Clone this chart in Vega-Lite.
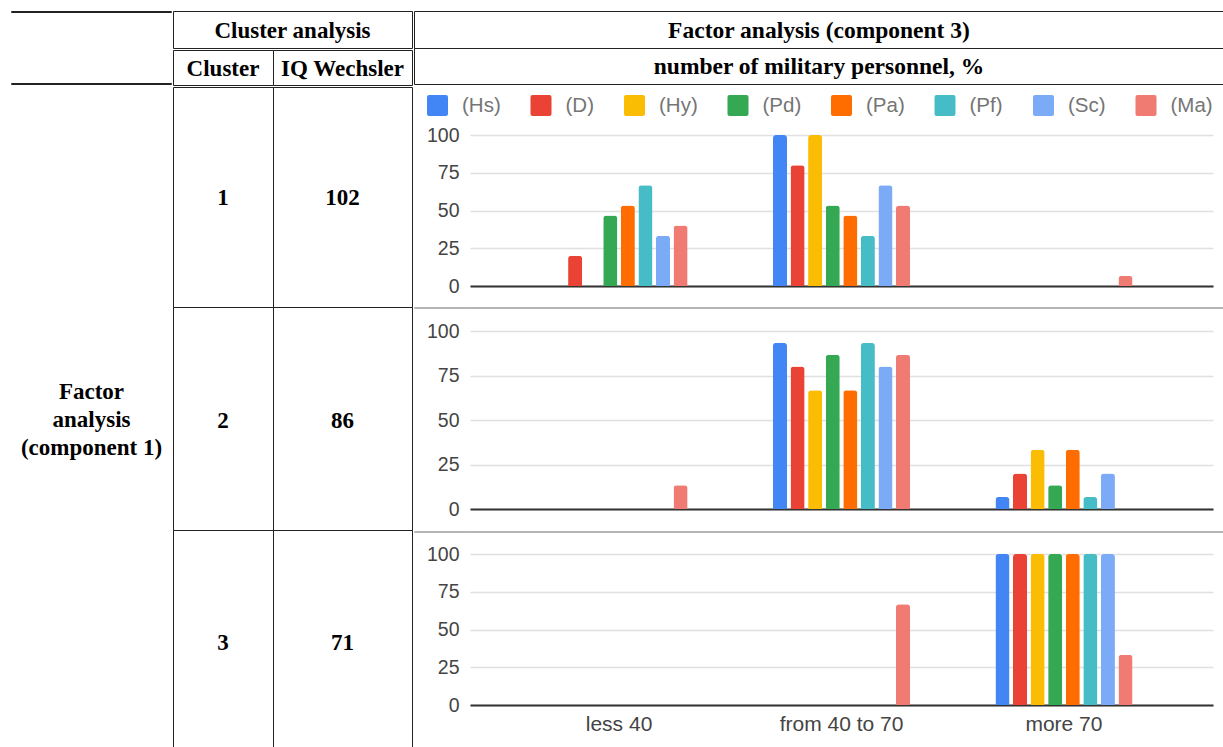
{
  "$schema": "https://vega.github.io/schema/vega-lite/v6.json",
  "padding": {"left": 10, "top": 10, "right": 0, "bottom": 0},
  "config": {
    "view": {"stroke": null},
    "concat": {"spacing": 0},
    "font": "Liberation Sans"
  },
  "datasets": {
    "bars": [
      {"cluster": 1, "group": "less 40", "scale": "(Hs)", "value": 0},
      {"cluster": 1, "group": "less 40", "scale": "(D)", "value": 20},
      {"cluster": 1, "group": "less 40", "scale": "(Hy)", "value": 0},
      {"cluster": 1, "group": "less 40", "scale": "(Pd)", "value": 46.7},
      {"cluster": 1, "group": "less 40", "scale": "(Pa)", "value": 53.3},
      {"cluster": 1, "group": "less 40", "scale": "(Pf)", "value": 66.7},
      {"cluster": 1, "group": "less 40", "scale": "(Sc)", "value": 33.3},
      {"cluster": 1, "group": "less 40", "scale": "(Ma)", "value": 40},
      {"cluster": 1, "group": "from 40 to 70", "scale": "(Hs)", "value": 100},
      {"cluster": 1, "group": "from 40 to 70", "scale": "(D)", "value": 80},
      {"cluster": 1, "group": "from 40 to 70", "scale": "(Hy)", "value": 100},
      {"cluster": 1, "group": "from 40 to 70", "scale": "(Pd)", "value": 53.3},
      {"cluster": 1, "group": "from 40 to 70", "scale": "(Pa)", "value": 46.7},
      {"cluster": 1, "group": "from 40 to 70", "scale": "(Pf)", "value": 33.3},
      {"cluster": 1, "group": "from 40 to 70", "scale": "(Sc)", "value": 66.7},
      {"cluster": 1, "group": "from 40 to 70", "scale": "(Ma)", "value": 53.3},
      {"cluster": 1, "group": "more 70", "scale": "(Hs)", "value": 0},
      {"cluster": 1, "group": "more 70", "scale": "(D)", "value": 0},
      {"cluster": 1, "group": "more 70", "scale": "(Hy)", "value": 0},
      {"cluster": 1, "group": "more 70", "scale": "(Pd)", "value": 0},
      {"cluster": 1, "group": "more 70", "scale": "(Pa)", "value": 0},
      {"cluster": 1, "group": "more 70", "scale": "(Pf)", "value": 0},
      {"cluster": 1, "group": "more 70", "scale": "(Sc)", "value": 0},
      {"cluster": 1, "group": "more 70", "scale": "(Ma)", "value": 6.7},
      {"cluster": 2, "group": "less 40", "scale": "(Hs)", "value": 0},
      {"cluster": 2, "group": "less 40", "scale": "(D)", "value": 0},
      {"cluster": 2, "group": "less 40", "scale": "(Hy)", "value": 0},
      {"cluster": 2, "group": "less 40", "scale": "(Pd)", "value": 0},
      {"cluster": 2, "group": "less 40", "scale": "(Pa)", "value": 0},
      {"cluster": 2, "group": "less 40", "scale": "(Pf)", "value": 0},
      {"cluster": 2, "group": "less 40", "scale": "(Sc)", "value": 0},
      {"cluster": 2, "group": "less 40", "scale": "(Ma)", "value": 13.3},
      {"cluster": 2, "group": "from 40 to 70", "scale": "(Hs)", "value": 93.3},
      {"cluster": 2, "group": "from 40 to 70", "scale": "(D)", "value": 80},
      {"cluster": 2, "group": "from 40 to 70", "scale": "(Hy)", "value": 66.7},
      {"cluster": 2, "group": "from 40 to 70", "scale": "(Pd)", "value": 86.7},
      {"cluster": 2, "group": "from 40 to 70", "scale": "(Pa)", "value": 66.7},
      {"cluster": 2, "group": "from 40 to 70", "scale": "(Pf)", "value": 93.3},
      {"cluster": 2, "group": "from 40 to 70", "scale": "(Sc)", "value": 80},
      {"cluster": 2, "group": "from 40 to 70", "scale": "(Ma)", "value": 86.7},
      {"cluster": 2, "group": "more 70", "scale": "(Hs)", "value": 6.7},
      {"cluster": 2, "group": "more 70", "scale": "(D)", "value": 20},
      {"cluster": 2, "group": "more 70", "scale": "(Hy)", "value": 33.3},
      {"cluster": 2, "group": "more 70", "scale": "(Pd)", "value": 13.3},
      {"cluster": 2, "group": "more 70", "scale": "(Pa)", "value": 33.3},
      {"cluster": 2, "group": "more 70", "scale": "(Pf)", "value": 6.7},
      {"cluster": 2, "group": "more 70", "scale": "(Sc)", "value": 20},
      {"cluster": 2, "group": "more 70", "scale": "(Ma)", "value": 0},
      {"cluster": 3, "group": "less 40", "scale": "(Hs)", "value": 0},
      {"cluster": 3, "group": "less 40", "scale": "(D)", "value": 0},
      {"cluster": 3, "group": "less 40", "scale": "(Hy)", "value": 0},
      {"cluster": 3, "group": "less 40", "scale": "(Pd)", "value": 0},
      {"cluster": 3, "group": "less 40", "scale": "(Pa)", "value": 0},
      {"cluster": 3, "group": "less 40", "scale": "(Pf)", "value": 0},
      {"cluster": 3, "group": "less 40", "scale": "(Sc)", "value": 0},
      {"cluster": 3, "group": "less 40", "scale": "(Ma)", "value": 0},
      {"cluster": 3, "group": "from 40 to 70", "scale": "(Hs)", "value": 0},
      {"cluster": 3, "group": "from 40 to 70", "scale": "(D)", "value": 0},
      {"cluster": 3, "group": "from 40 to 70", "scale": "(Hy)", "value": 0},
      {"cluster": 3, "group": "from 40 to 70", "scale": "(Pd)", "value": 0},
      {"cluster": 3, "group": "from 40 to 70", "scale": "(Pa)", "value": 0},
      {"cluster": 3, "group": "from 40 to 70", "scale": "(Pf)", "value": 0},
      {"cluster": 3, "group": "from 40 to 70", "scale": "(Sc)", "value": 0},
      {"cluster": 3, "group": "from 40 to 70", "scale": "(Ma)", "value": 66.7},
      {"cluster": 3, "group": "more 70", "scale": "(Hs)", "value": 100},
      {"cluster": 3, "group": "more 70", "scale": "(D)", "value": 100},
      {"cluster": 3, "group": "more 70", "scale": "(Hy)", "value": 100},
      {"cluster": 3, "group": "more 70", "scale": "(Pd)", "value": 100},
      {"cluster": 3, "group": "more 70", "scale": "(Pa)", "value": 100},
      {"cluster": 3, "group": "more 70", "scale": "(Pf)", "value": 100},
      {"cluster": 3, "group": "more 70", "scale": "(Sc)", "value": 100},
      {"cluster": 3, "group": "more 70", "scale": "(Ma)", "value": 33.3}
    ]
  },
  "spacing": 0,
  "vconcat": [
    {
      "spacing": 0,
      "hconcat": [
        {
          "bounds": "flush",
          "spacing": 0,
          "vconcat": [
            {"width": 160, "height": 1, "view": {"stroke": "#222", "strokeWidth": 1}, "data": {"values": []}, "mark": "text", "encoding": {"text": {"value": ""}}},
            {"width": 160, "height": 71, "data": {"values": []}, "mark": "text", "encoding": {"text": {"value": ""}}},
            {"width": 160, "height": 1, "view": {"stroke": "#222", "strokeWidth": 1}, "data": {"values": []}, "mark": "text", "encoding": {"text": {"value": ""}}}
          ]
        },
        {
          "spacing": 0,
          "vconcat": [
            {"width": 239, "height": 37, "view": {"stroke": "#222", "strokeWidth": 1}, "data": {"values": [{"t": "Cluster analysis"}]}, "mark": {"type": "text", "font": "Liberation Serif", "fontWeight": "bold", "fontSize": 23, "color": "#000", "dy": 1}, "encoding": {"text": {"field": "t"}}},
            {
              "bounds": "flush",
              "spacing": 0,
              "hconcat": [
                {"width": 100, "height": 35, "view": {"stroke": "#222", "strokeWidth": 1}, "data": {"values": [{"t": "Cluster"}]}, "mark": {"type": "text", "font": "Liberation Serif", "fontWeight": "bold", "fontSize": 23, "color": "#000", "dy": 1}, "encoding": {"text": {"field": "t"}}},
                {"width": 139, "height": 35, "view": {"stroke": "#222", "strokeWidth": 1}, "data": {"values": [{"t": "IQ Wechsler"}]}, "mark": {"type": "text", "font": "Liberation Serif", "fontWeight": "bold", "fontSize": 23, "color": "#000", "dy": 1}, "encoding": {"text": {"field": "t"}}}
              ]
            }
          ]
        },
        {
          "bounds": "flush",
          "spacing": 0,
          "vconcat": [
            {"width": 810, "height": 37, "view": {"stroke": "#222", "strokeWidth": 1}, "data": {"values": [{"t": "Factor analysis (component 3)"}]}, "mark": {"type": "text", "font": "Liberation Serif", "fontWeight": "bold", "fontSize": 23.5, "color": "#000", "dy": 1}, "encoding": {"text": {"field": "t"}}},
            {"width": 810, "height": 36, "view": {"stroke": "#222", "strokeWidth": 1}, "data": {"values": [{"t": "number of military personnel, %"}]}, "mark": {"type": "text", "font": "Liberation Serif", "fontWeight": "bold", "fontSize": 23.5, "color": "#000", "dy": 1}, "encoding": {"text": {"field": "t"}}}
          ]
        }
      ]
    },
    {
      "spacing": 0,
      "hconcat": [
        {"width": 161, "height": 662, "data": {"values": [{"t": "Factor\nanalysis\n(component 1)"}]}, "mark": {"type": "text", "font": "Liberation Serif", "fontWeight": "bold", "fontSize": 23, "color": "#000", "lineBreak": "\n", "lineHeight": 28, "dy": -26}, "encoding": {"text": {"field": "t"}}},
        {
          "bounds": "flush",
          "spacing": 0,
          "columns": 2,
          "align": "each",
          "concat": [
            {"width": 100, "height": 220, "view": {"stroke": "#222", "strokeWidth": 1}, "data": {"values": [{"t": "1"}]}, "mark": {"type": "text", "font": "Liberation Serif", "fontWeight": "bold", "fontSize": 23, "color": "#000", "dy": 1}, "encoding": {"text": {"field": "t"}}},
            {"width": 139, "height": 220, "view": {"stroke": "#222", "strokeWidth": 1}, "data": {"values": [{"t": "102"}]}, "mark": {"type": "text", "font": "Liberation Serif", "fontWeight": "bold", "fontSize": 23, "color": "#000", "dy": 1}, "encoding": {"text": {"field": "t"}}},
            {"width": 100, "height": 223, "view": {"stroke": "#222", "strokeWidth": 1}, "data": {"values": [{"t": "2"}]}, "mark": {"type": "text", "font": "Liberation Serif", "fontWeight": "bold", "fontSize": 23, "color": "#000", "dy": 2}, "encoding": {"text": {"field": "t"}}},
            {"width": 139, "height": 223, "view": {"stroke": "#222", "strokeWidth": 1}, "data": {"values": [{"t": "86"}]}, "mark": {"type": "text", "font": "Liberation Serif", "fontWeight": "bold", "fontSize": 23, "color": "#000", "dy": 2}, "encoding": {"text": {"field": "t"}}},
            {"width": 100, "height": 219, "view": {"stroke": "#222", "strokeWidth": 1}, "data": {"values": [{"t": "3"}]}, "mark": {"type": "text", "font": "Liberation Serif", "fontWeight": "bold", "fontSize": 23, "color": "#000", "dy": 3}, "encoding": {"text": {"field": "t"}}},
            {"width": 139, "height": 219, "view": {"stroke": "#222", "strokeWidth": 1}, "data": {"values": [{"t": "71"}]}, "mark": {"type": "text", "font": "Liberation Serif", "fontWeight": "bold", "fontSize": 23, "color": "#000", "dy": 3}, "encoding": {"text": {"field": "t"}}}
          ]
        },
        {
          "bounds": "flush",
          "spacing": 0,
          "columns": 2,
          "align": "each",
          "resolve": {"scale": {"color": "independent", "xOffset": "independent"}},
          "concat": [
            {"width": 56, "height": 48, "data": {"values": []}, "mark": "text", "encoding": {"text": {"value": ""}}},
            {"width": 754, "height": 48, "data": {"values": []}, "mark": "text", "encoding": {"text": {"value": ""}}},
            {"width": 56, "height": 151, "data": {"values": []}, "mark": "text", "encoding": {"text": {"value": ""}}},
            {
              "width": 743, "height": 151,
              "data": {"name": "bars"},
              "transform": [{"filter": "datum.cluster == 1"}],
              "mark": {"type": "bar", "cornerRadiusTopLeft": 3, "cornerRadiusTopRight": 3},
              "encoding": {
                "x": {"field": "group", "type": "nominal", "sort": ["less 40", "from 40 to 70", "more 70"], "scale": {"paddingInner": 0.368, "paddingOuter": 0.354}, "axis": {"title": null, "labels": false, "ticks": false, "domainColor": "#333", "domainWidth": 2, "grid": false}},
                "xOffset": {"field": "scale", "type": "nominal", "sort": ["(Hs)", "(D)", "(Hy)", "(Pd)", "(Pa)", "(Pf)", "(Sc)", "(Ma)"], "scale": {"paddingInner": 0.2, "paddingOuter": 0.1}},
                "y": {"field": "value", "type": "quantitative", "scale": {"domain": [0, 100], "nice": false}, "axis": {"title": null, "values": [0, 25, 50, 75, 100], "domain": false, "ticks": false, "labelPadding": 11, "labelFontSize": 19.5, "labelColor": "#444", "gridColor": "#e0e0e0", "gridWidth": 1.5}},
                "color": {"field": "scale", "type": "nominal", "scale": {"domain": ["(Hs)", "(D)", "(Hy)", "(Pd)", "(Pa)", "(Pf)", "(Sc)", "(Ma)"], "range": ["#4285F4", "#EA4335", "#FBBC04", "#34A853", "#FF6D01", "#46BDC6", "#7BAAF7", "#F07B72"]}, "legend": {"title": null, "orient": "none", "legendX": -43, "legendY": -40, "direction": "horizontal", "columns": 8, "symbolType": "M-0.8,-1H0.8Q1,-1 1,-0.8V0.8Q1,1 0.8,1H-0.8Q-1,1 -1,0.8V-0.8Q-1,-1 -0.8,-1Z", "symbolSize": 441, "symbolStrokeWidth": 0, "symbolOpacity": 1, "labelFontSize": 20.5, "labelColor": "#757575", "labelOffset": 14, "columnPadding": 29.5}}
              }
            },
            {"width": 56, "height": 21, "data": {"values": []}, "mark": "text", "encoding": {"text": {"value": ""}}},
            {"width": 754, "height": 21, "data": {"values": []}, "mark": "text", "encoding": {"text": {"value": ""}}},
            {"width": 56, "height": 1, "view": {"stroke": "#b5b5b5"}, "data": {"values": []}, "mark": "text", "encoding": {"text": {"value": ""}}},
            {"width": 754, "height": 1, "view": {"stroke": "#b5b5b5"}, "data": {"values": []}, "mark": "text", "encoding": {"text": {"value": ""}}},
            {"width": 56, "height": 23, "data": {"values": []}, "mark": "text", "encoding": {"text": {"value": ""}}},
            {"width": 754, "height": 23, "data": {"values": []}, "mark": "text", "encoding": {"text": {"value": ""}}},
            {"width": 56, "height": 178, "data": {"values": []}, "mark": "text", "encoding": {"text": {"value": ""}}},
            {
              "width": 743, "height": 178,
              "data": {"name": "bars"},
              "transform": [{"filter": "datum.cluster == 2"}],
              "mark": {"type": "bar", "cornerRadiusTopLeft": 3, "cornerRadiusTopRight": 3},
              "encoding": {
                "x": {"field": "group", "type": "nominal", "sort": ["less 40", "from 40 to 70", "more 70"], "scale": {"paddingInner": 0.368, "paddingOuter": 0.354}, "axis": {"title": null, "labels": false, "ticks": false, "domainColor": "#333", "domainWidth": 2, "grid": false}},
                "xOffset": {"field": "scale", "type": "nominal", "sort": ["(Hs)", "(D)", "(Hy)", "(Pd)", "(Pa)", "(Pf)", "(Sc)", "(Ma)"], "scale": {"paddingInner": 0.2, "paddingOuter": 0.1}},
                "y": {"field": "value", "type": "quantitative", "scale": {"domain": [0, 100], "nice": false}, "axis": {"title": null, "values": [0, 25, 50, 75, 100], "domain": false, "ticks": false, "labelPadding": 11, "labelFontSize": 19.5, "labelColor": "#444", "gridColor": "#e0e0e0", "gridWidth": 1.5}},
                "color": {"field": "scale", "type": "nominal", "scale": {"domain": ["(Hs)", "(D)", "(Hy)", "(Pd)", "(Pa)", "(Pf)", "(Sc)", "(Ma)"], "range": ["#4285F4", "#EA4335", "#FBBC04", "#34A853", "#FF6D01", "#46BDC6", "#7BAAF7", "#F07B72"]}, "legend": null}
              }
            },
            {"width": 56, "height": 22, "data": {"values": []}, "mark": "text", "encoding": {"text": {"value": ""}}},
            {"width": 754, "height": 22, "data": {"values": []}, "mark": "text", "encoding": {"text": {"value": ""}}},
            {"width": 56, "height": 1, "view": {"stroke": "#b5b5b5"}, "data": {"values": []}, "mark": "text", "encoding": {"text": {"value": ""}}},
            {"width": 754, "height": 1, "view": {"stroke": "#b5b5b5"}, "data": {"values": []}, "mark": "text", "encoding": {"text": {"value": ""}}},
            {"width": 56, "height": 22, "data": {"values": []}, "mark": "text", "encoding": {"text": {"value": ""}}},
            {"width": 754, "height": 22, "data": {"values": []}, "mark": "text", "encoding": {"text": {"value": ""}}},
            {"width": 56, "height": 151, "data": {"values": []}, "mark": "text", "encoding": {"text": {"value": ""}}},
            {
              "width": 743, "height": 151,
              "data": {"name": "bars"},
              "transform": [{"filter": "datum.cluster == 3"}],
              "mark": {"type": "bar", "cornerRadiusTopLeft": 3, "cornerRadiusTopRight": 3},
              "encoding": {
                "x": {"field": "group", "type": "nominal", "sort": ["less 40", "from 40 to 70", "more 70"], "scale": {"paddingInner": 0.368, "paddingOuter": 0.354}, "axis": {"title": null, "ticks": false, "domainColor": "#333", "domainWidth": 2, "grid": false, "labelAngle": 0, "labelFontSize": 21, "labelColor": "#444", "labelPadding": 8}},
                "xOffset": {"field": "scale", "type": "nominal", "sort": ["(Hs)", "(D)", "(Hy)", "(Pd)", "(Pa)", "(Pf)", "(Sc)", "(Ma)"], "scale": {"paddingInner": 0.2, "paddingOuter": 0.1}},
                "y": {"field": "value", "type": "quantitative", "scale": {"domain": [0, 100], "nice": false}, "axis": {"title": null, "values": [0, 25, 50, 75, 100], "domain": false, "ticks": false, "labelPadding": 11, "labelFontSize": 19.5, "labelColor": "#444", "gridColor": "#e0e0e0", "gridWidth": 1.5}},
                "color": {"field": "scale", "type": "nominal", "scale": {"domain": ["(Hs)", "(D)", "(Hy)", "(Pd)", "(Pa)", "(Pf)", "(Sc)", "(Ma)"], "range": ["#4285F4", "#EA4335", "#FBBC04", "#34A853", "#FF6D01", "#46BDC6", "#7BAAF7", "#F07B72"]}, "legend": null}
              }
            },
            {"width": 56, "height": 41, "data": {"values": []}, "mark": "text", "encoding": {"text": {"value": ""}}},
            {"width": 754, "height": 41, "data": {"values": []}, "mark": "text", "encoding": {"text": {"value": ""}}}
          ]
        }
      ]
    }
  ]
}
